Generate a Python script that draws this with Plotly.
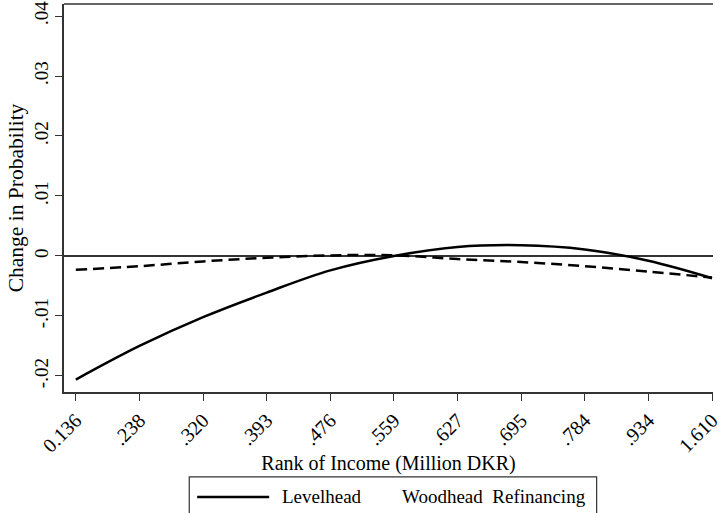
import plotly.graph_objects as go

# Income-rank categories (decile cut points, million DKR)
income_ranks = ["0.136", ".238", ".320", ".393", ".476", ".559",
                ".627", ".695", ".784", ".934", "1.610"]

# Marginal change in probability by income rank
levelhead = [-0.0206, -0.0150, -0.0102, -0.0061, -0.0024, 0.0000,
             0.0015, 0.0018, 0.0011, -0.0008, -0.0037]
woodhead_refinancing = [-0.0023, -0.0017, -0.0009, -0.0003, 0.0001, 0.0001,
                        -0.0005, -0.0010, -0.0017, -0.0026, -0.0036]

y_tick_vals = [-0.02, -0.01, 0.0, 0.01, 0.02, 0.03, 0.04]
y_tick_text = ["-.02", "-.01", "0", ".01", ".02", ".03", ".04"]

FONT = "Liberation Serif, Times New Roman, serif"
AXIS_COLOR = "#333333"

fig = go.Figure()
fig.add_trace(go.Scatter(
    x=income_ranks, y=levelhead, mode="lines", name="Levelhead",
    line=dict(color="black", width=2.5, shape="spline", smoothing=1.0),
))
fig.add_trace(go.Scatter(
    x=income_ranks, y=woodhead_refinancing, mode="lines",
    name="Woodhead  Refinancing",
    line=dict(color="black", width=2.5, dash="11px,6px",
              shape="spline", smoothing=1.0),
))

fig.update_layout(
    width=722, height=513,
    margin=dict(l=64, r=0, t=4, b=121),
    paper_bgcolor="white", plot_bgcolor="white",
    font=dict(family=FONT, size=19, color="black"),
    showlegend=False,
)

fig.update_xaxes(
    type="category",
    range=[-0.186, 10.0155],
    showgrid=False, zeroline=False,
    showline=True, linecolor=AXIS_COLOR, linewidth=1.6,
    ticks="outside", ticklen=7, tickwidth=1.3, tickcolor=AXIS_COLOR,
    tickangle=-45, tickfont=dict(size=20, family=FONT),
    title=dict(text="Rank of Income (Million DKR)",
               font=dict(size=20, family=FONT), standoff=0),
)
fig.update_yaxes(
    range=[-0.02267, 0.042],
    tickvals=y_tick_vals, ticktext=y_tick_text,
    showgrid=False,
    zeroline=True, zerolinecolor=AXIS_COLOR, zerolinewidth=1.6,
    showline=True, linecolor=AXIS_COLOR, linewidth=1.6,
    ticks="outside", ticklen=7, tickwidth=1.3, tickcolor=AXIS_COLOR,
    tickangle=-90, tickfont=dict(size=19, family=FONT),
    title=dict(text="Change in Probability",
               font=dict(size=21.5, family=FONT), standoff=1),
)

# Top border of the plot region
fig.add_shape(type="line", xref="paper", yref="paper",
              x0=0, x1=1, y0=1, y1=1,
              line=dict(color=AXIS_COLOR, width=1.6))

# Legend box below the axis
fig.add_shape(type="rect", xref="paper", yref="paper",
              x0=0.193, x1=0.8207, y0=-0.219, y1=-0.36,
              line=dict(color=AXIS_COLOR, width=1.2), fillcolor="white")
fig.add_shape(type="line", xref="paper", yref="paper",
              x0=0.2052, x1=0.3161, y0=-0.2706, y1=-0.2706,
              line=dict(color="black", width=2.5))
fig.add_annotation(xref="paper", yref="paper", x=0.3328, y=-0.2706,
                   text=fig.data[0].name, showarrow=False,
                   xanchor="left", yanchor="middle",
                   font=dict(size=19, family=FONT))
fig.add_annotation(xref="paper", yref="paper", x=0.518, y=-0.2706,
                   text=fig.data[1].name.replace("  ", "\u00a0\u00a0"),
                   showarrow=False, xanchor="left", yanchor="middle",
                   font=dict(size=19, family=FONT))

fig.write_html("out.html")
